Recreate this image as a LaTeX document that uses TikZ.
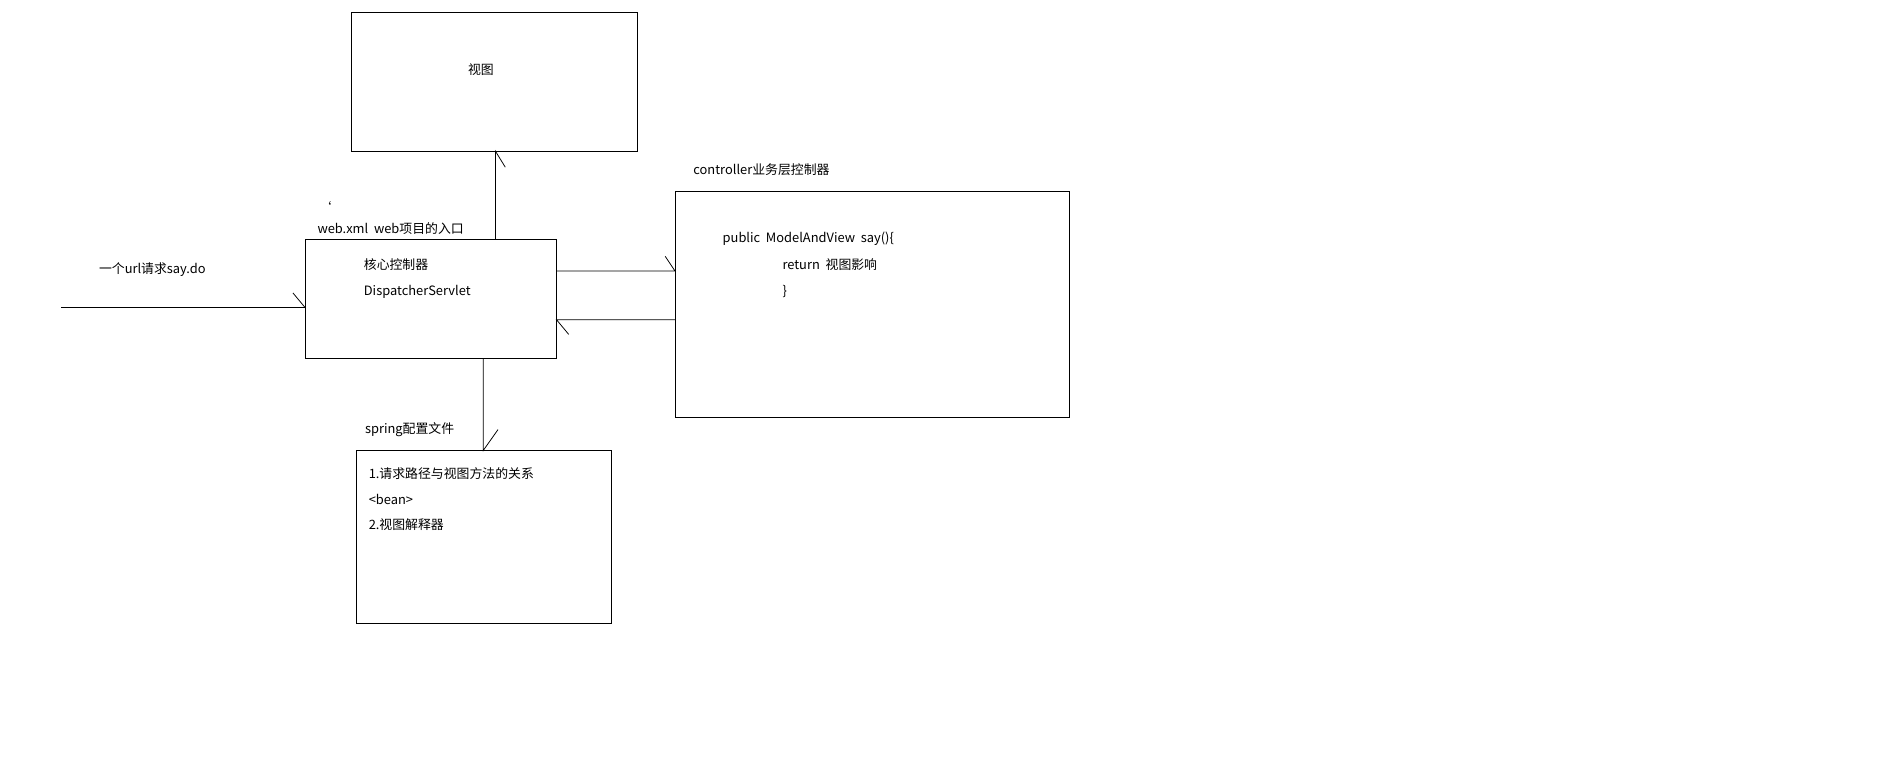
\documentclass[tikz,border=0pt]{standalone}
\usepackage{fontspec}
\setmainfont{Noto Sans CJK SC}
\begin{document}
\begin{tikzpicture}[x=0.05cm,y=-0.05cm,
  box/.style={draw,line width=0.9pt},
  lbl/.style={anchor=west,inner sep=0pt,font=\fontsize{15}{18}\selectfont},
  ln/.style={line width=0.9pt}]
\useasboundingbox (0,0) rectangle (1560,623);
\draw[box] (288,10) rectangle (522,124);
\node[lbl,anchor=center] (v) at (394,57) {视图};
\draw[box] (250,196) rectangle (456,294);
\draw[box] (553,157) rectangle (876,342);
\draw[box] (292,369) rectangle (501,511);
\coordinate (vb) at (406,124); \coordinate (ct) at (406,196);
\coordinate (cl) at (250,252); \coordinate (src) at (50,252);
\coordinate (cr1) at (456,222); \coordinate (k1) at (553,222);
\coordinate (cr2) at (456,262); \coordinate (k2) at (553,262);
\coordinate (cb) at (396,294); \coordinate (st) at (396,369);
\draw[ln] (ct) -- (vb) -- (414,137);
\draw[ln] (src) -- (cl) -- (240,240);
\draw[ln] (cr1) -- (k1) -- (545,210);
\draw[ln] (k2) -- (cr2) -- (466,274);
\draw[ln] (cb) -- (st) -- (408,352);
\node[lbl] (w) at (260,187) {web.xml\ \ web项目的入口};
\node[lbl] (tk) at (261,170) {`};
\node[lbl] (c1) at (298,217) {核心控制器};
\node[lbl] (c2) at (298,239) {DispatcherServlet};
\node[lbl] (u) at (81,221) {一个url请求say.do};
\node[lbl] (ctl) at (568,139) {controller业务层控制器};
\node[lbl] (p1) at (592,196) {public\ \ ModelAndView\ \ say()\{};
\node[lbl] (p2) at (641,217) {return\ \ 视图影响};
\node[lbl] (p3) at (641,239) {\}};
\node[lbl] (sp) at (299,352) {spring配置文件};
\node[lbl] (s1) at (302,388) {1.请求路径与视图方法的关系};
\node[lbl] (s2) at (302,409) {<bean>};
\node[lbl] (s3) at (302,430) {2.视图解释器};
\end{tikzpicture}
\end{document}
